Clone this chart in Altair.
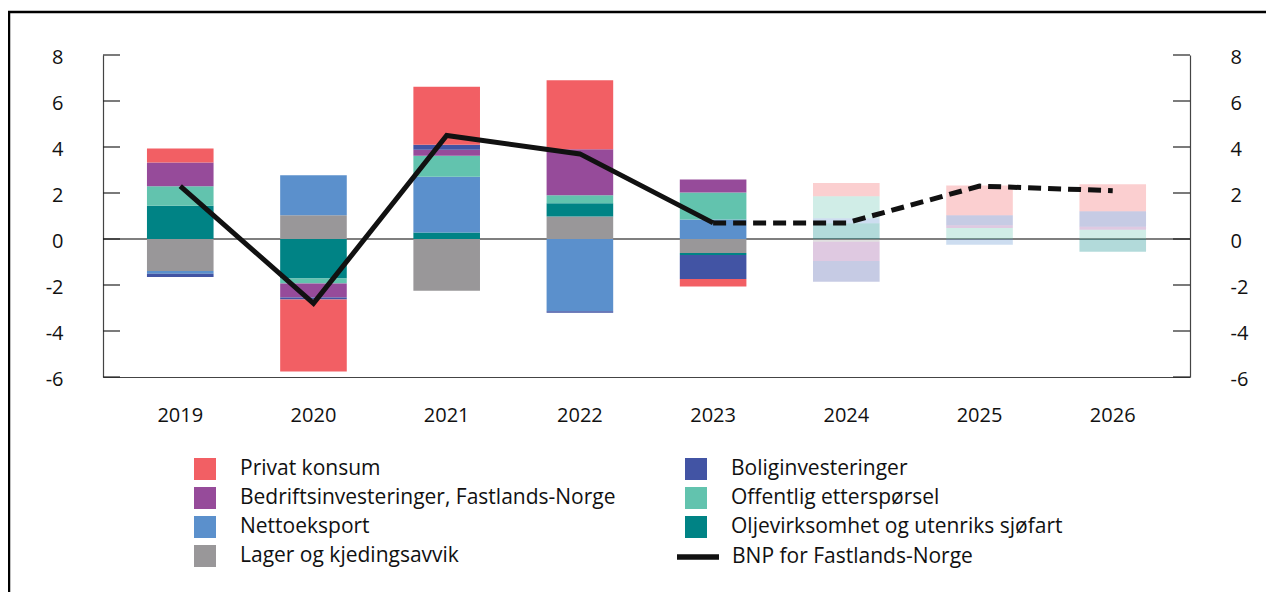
import altair as alt
import pandas as pd

years = ["2019", "2020", "2021", "2022", "2023", "2024", "2025", "2026"]
privat = [0.61, -3.13, 2.52, 3.00, -0.33, 0.57, 1.30, 1.17]
bolig = [-0.14, -0.09, 0.22, -0.07, -1.04, -0.90, 0.43, 0.68]
bedrift = [1.04, -0.60, 0.26, 2.00, 0.57, -0.84, 0.12, 0.13]
offentlig = [0.84, -0.22, 0.91, 0.35, 1.17, 0.96, 0.48, 0.40]
netto = [-0.12, 1.74, 2.43, -3.14, 0.85, 0.22, -0.25, 0.00]
olje = [1.45, -1.72, 0.28, 0.57, -0.09, 0.68, 0.00, -0.55]
lager = [-1.39, 1.03, -2.25, 0.98, -0.61, -0.12, 0.00, 0.00]
bnp = [2.3, -2.8, 4.5, 3.7, 0.7, 0.7, 2.3, 2.1]
status = ["faktisk"] * 5 + ["anslag"] * 3
y_ticks = [-6, -4, -2, 0, 2, 4, 6, 8]

names = {
    "privat": "Privat konsum",
    "bolig": "Boliginvesteringer",
    "bedrift": "Bedriftsinvesteringer, Fastlands-Norge",
    "offentlig": "Offentlig etterspørsel",
    "netto": "Nettoeksport",
    "olje": "Oljevirksomhet og utenriks sjøfart",
    "lager": "Lager og kjedingsavvik",
}
bnp_name = "BNP for Fastlands-Norge"

# stacking order outward from zero
stack_order = [("lager", lager), ("olje", olje), ("netto", netto), ("offentlig", offentlig),
               ("bedrift", bedrift), ("bolig", bolig), ("privat", privat)]
# legend fills column by column
legend_order = ["privat", "bedrift", "netto", "lager", "bolig", "offentlig", "olje"]
colors = {"privat": "#F25F64", "bolig": "#4254A4", "bedrift": "#964B9A", "offentlig": "#62C3AE",
          "netto": "#5B90CC", "olje": "#008385", "lager": "#999799"}

rows = []
for rank, (key, vals) in enumerate(stack_order):
    for yr, v, st in zip(years, vals, status):
        rows.append({"year": yr, "serie": names[key], "value": v, "rank": rank, "status": st})
bars_df = pd.DataFrame(rows)

line_df = pd.DataFrame({"year": years, "bnp": bnp, "status": status, "navn": bnp_name})
line_act = line_df.iloc[:5]
line_fc = line_df.iloc[4:]
ticks_df = pd.DataFrame({"t": y_ticks})
zero_df = pd.DataFrame({"z": [0]})

W, H = 1087, 322
FONT = "Open Sans"
LBL = "'' + datum.value"
LEG_FS = 21

yscale = alt.Scale(domain=[-6, 8], nice=False, zero=False)
x_enc = alt.X("year:N", sort=years, title=None,
              scale=alt.Scale(paddingInner=0.5, paddingOuter=0.33),
              axis=alt.Axis(labelAngle=0, labelPadding=28, domainColor="#444", domainWidth=1.2))

frame = alt.Chart(alt.Data(values=[{"a": 1}])).mark_rect(
    fill="transparent", stroke="#000", strokeWidth=2.5
).encode(x=alt.value(-94), x2=alt.value(1400), y=alt.value(-43), y2=alt.value(800))

zero = alt.Chart(zero_df).mark_rule(color="#000", strokeWidth=1.2).encode(
    y=alt.Y("z:Q", scale=yscale, axis=None), x=alt.value(0), x2=alt.value(W))

bars = alt.Chart(bars_df).mark_bar().encode(
    x=x_enc,
    y=alt.Y("value:Q", stack="zero", scale=yscale, title=None,
            axis=alt.Axis(orient="left", values=y_ticks, labelPadding=40, domainColor="#444",
                          domainWidth=1.2, labelOffset=2, labelExpr=LBL)),
    color=alt.Color("serie:N", scale=alt.Scale(domain=[names[k] for k in legend_order],
                                               range=[colors[k] for k in legend_order]),
                    legend=alt.Legend(title=None, orient="none", legendX=91, legendY=403, columns=2,
                                      symbolType="square", symbolSize=484, symbolStrokeWidth=0,
                                      symbolOpacity=1, labelFont=FONT, labelFontSize=LEG_FS,
                                      labelColor="#111", labelOffset=24, rowPadding=7,
                                      columnPadding=69, labelLimit=600)),
    order=alt.Order("rank:Q"),
    opacity=alt.Opacity("status:N", scale=alt.Scale(domain=["faktisk", "anslag"], range=[1, 0.3]),
                        legend=None),
)

line_a = alt.Chart(line_act).mark_line(strokeWidth=5).encode(
    x=x_enc,
    y=alt.Y("bnp:Q", scale=yscale, axis=None),
    stroke=alt.Stroke("navn:N", scale=alt.Scale(domain=[bnp_name], range=["#111"]),
                      legend=alt.Legend(title=None, orient="none", legendX=571, legendY=478,
                                        symbolType="stroke", symbolStrokeWidth=5.5, symbolSize=1764,
                                        labelFont=FONT, labelFontSize=LEG_FS, labelColor="#111",
                                        labelOffset=10, labelLimit=600)),
)

line_f = alt.Chart(line_fc).mark_line(strokeWidth=5, strokeDash=[13, 7], color="#111").encode(
    x=x_enc,
    y=alt.Y("bnp:Q", scale=yscale, axis=None),
)

ticks_l = alt.Chart(ticks_df).mark_rule(color="#222", strokeWidth=1.2).encode(
    y=alt.Y("t:Q", scale=yscale, axis=None), x=alt.value(0), x2=alt.value(17))

ticks_r = alt.Chart(ticks_df).mark_rule(color="#222", strokeWidth=1.2).encode(
    y=alt.Y("t:Q", scale=yscale, title=None,
            axis=alt.Axis(orient="right", values=y_ticks, labelPadding=40, domainColor="#444",
                          domainWidth=1.2, labelOffset=2, labelExpr=LBL)),
    x=alt.value(W - 17), x2=alt.value(W))

chart = alt.layer(frame, zero, bars, line_a, line_f, ticks_l, ticks_r).resolve_axis(
    y="independent"
).properties(
    width=W, height=H,
    padding={"left": 95, "top": 47, "right": 76, "bottom": 215},
    autosize=alt.AutoSizeParams(type="none"),
).configure_view(stroke=None).configure_axis(
    labelFont=FONT, labelFontSize=20, labelColor="#111", ticks=False, tickSize=0, grid=False,
)

chart.save("out.html", embed_options={"renderer": "svg", "actions": False})
